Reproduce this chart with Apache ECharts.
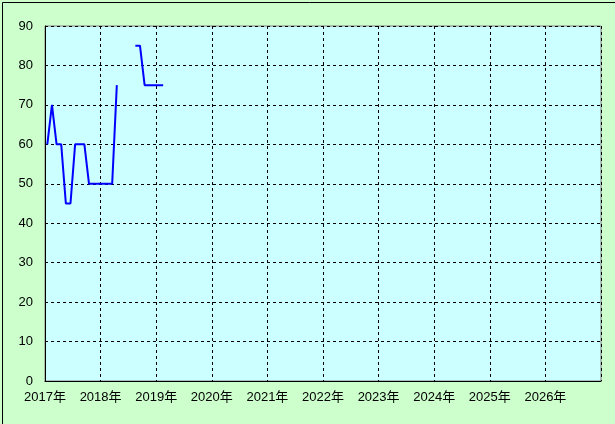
<!DOCTYPE html>
<html><head><meta charset="utf-8">
<script src="https://cdn.jsdelivr.net/npm/echarts@6/dist/echarts.min.js"></script>
<style>html,body{margin:0;padding:0;background:#ccffcc;}#c{width:615px;height:424px;}</style>
</head><body><div id="c"></div>
<script>
// Monthly observations (year-month) and values; null = no data
const months = ['2017-01','2017-02','2017-03','2017-04','2017-05','2017-06','2017-07','2017-08','2017-09','2017-10','2017-11','2017-12',
  '2018-01','2018-02','2018-03','2018-04','2018-05','2018-06','2018-07','2018-08','2018-09','2018-10','2018-11','2018-12',
  '2019-01','2019-02'];
const values = [60,70,60,60,45,45,60,60,60,50,50,50,
  50,50,50,75,null,null,null,85,85,75,75,75,
  75,75];
const yearTicks = [2017,2018,2019,2020,2021,2022,2023,2024,2025,2026];
const yTicks = [0,10,20,30,40,50,60,70,80,90];

const seriesData = months.map((m, i) => {
  const [y, mo] = m.split('-').map(Number);
  return [y + (mo - 1 + 0.5) / 12, values[i]];
});

const chart = echarts.init(document.getElementById('c'));
const font = 'Liberation Sans, Arial, Noto Sans CJK JP, sans-serif';
chart.setOption({
  backgroundColor: '#ccffcc',
  animation: false,
  grid: { left: 45, right: 14, top: 26, bottom: 43, show: true, backgroundColor: '#ccffff', borderColor: '#808080', borderWidth: 1 },
  xAxis: {
    type: 'value', min: yearTicks[0], max: yearTicks[yearTicks.length-1] + 1, interval: 1,
    axisLine: { show: true, onZero: false, lineStyle: { color: '#000', width: 1 } },
    axisTick: { show: false },
    axisLabel: { color: '#000', fontSize: 13, fontFamily: font, margin: 10,
      formatter: v => yearTicks.includes(v) ? v + '年' : '' },
    splitLine: { show: true, lineStyle: { color: '#000', type: [3, 3], width: 1 } }
  },
  yAxis: {
    type: 'value', min: yTicks[0], max: yTicks[yTicks.length-1], interval: 10,
    axisLine: { show: true, lineStyle: { color: '#000', width: 1 } },
    axisTick: { show: false },
    axisLabel: { color: '#000', fontSize: 13, fontFamily: font, margin: 12 },
    splitLine: { show: true, lineStyle: { color: '#000', type: [3, 3], width: 1 } }
  },
  series: [{
    type: 'line', data: seriesData, showSymbol: false, connectNulls: false,
    lineStyle: { color: '#0000ff', width: 2 }, itemStyle: { color: '#0000ff' }
  }],
  graphic: [{
    type: 'rect', left: 0, top: 0, shape: { x: 0.5, y: 0.5, width: 614, height: 423 },
    style: { fill: null, stroke: '#000', lineWidth: 1 }, silent: true
  }]
});
</script></body></html>
